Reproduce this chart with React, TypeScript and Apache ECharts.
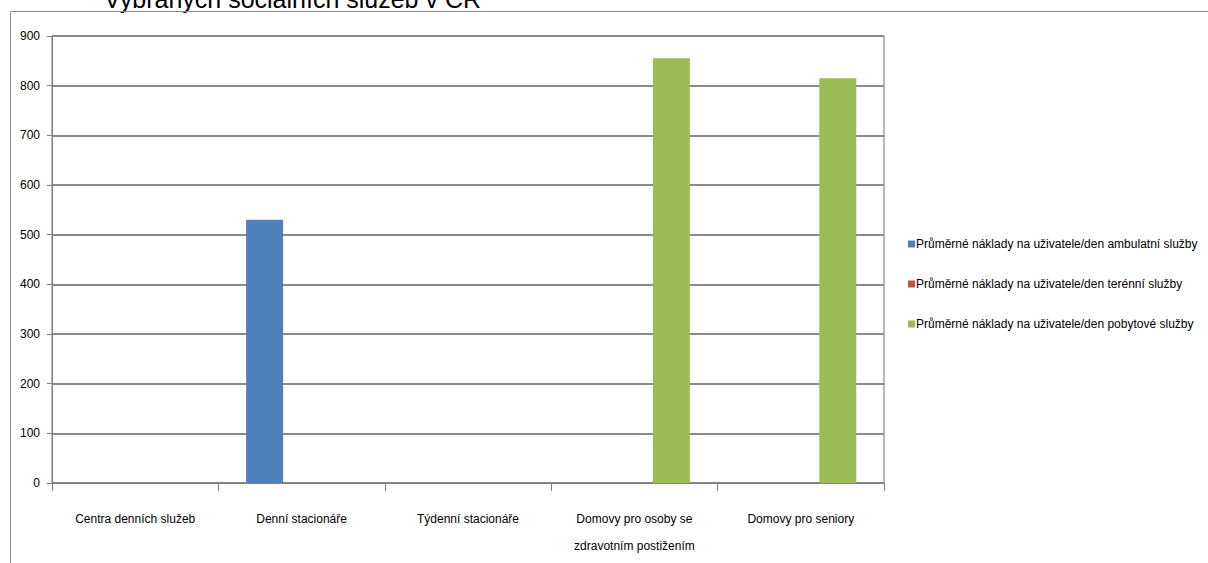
import React, { useEffect, useRef } from "react";
import * as echarts from "echarts";

const categories = [
  "Centra denních služeb",
  "Denní stacionáře",
  "Týdenní stacionáře",
  "Domovy pro osoby se zdravotním postižením",
  "Domovy pro seniory",
];
const seriesNames = [
  "Průměrné náklady na uživatele/den ambulatní služby",
  "Průměrné náklady na uživatele/den terénní služby",
  "Průměrné náklady na uživatele/den pobytové služby",
];
const ambulatni: (number | null)[] = [null, 530, null, null, null];
const terenni: (number | null)[] = [null, null, null, null, null];
const pobytove: (number | null)[] = [null, null, null, 855, 815];
const titleText = "Vybraných sociálních služeb v ČR";
const colors = ["#4f81bd", "#c0504d", "#9bbb59"];

const FONT = "'Liberation Sans', Arial, sans-serif";

function wrapWords(s: string, maxChars: number): string {
  const words = s.split(" ");
  const lines: string[] = [];
  let cur = "";
  for (const w of words) {
    const next = cur ? cur + " " + w : w;
    if (next.length > maxChars && cur) {
      lines.push(cur);
      cur = w;
    } else {
      cur = next;
    }
  }
  if (cur) lines.push(cur);
  return lines.join("\n");
}

export default function App() {
  const ref = useRef<HTMLDivElement>(null);
  useEffect(() => {
    if (!ref.current) return;
    const chart = echarts.init(ref.current, null, { renderer: "svg" });
    const data = [ambulatni, terenni, pobytove];
    chart.setOption({
      animation: false,
      backgroundColor: "#ffffff",
      textStyle: { fontFamily: FONT, color: "#000" },
      graphic: [
        {
          type: "text",
          left: 104,
          top: -14,
          style: { text: titleText, fontSize: 25, fontFamily: FONT, fill: "#000" },
        },
        {
          type: "polyline",
          shape: { points: [[10.5, 563], [10.5, 11.5], [1208, 11.5]] },
          style: { stroke: "#8c8c8c", lineWidth: 1, fill: "none" },
        },
      ],
      grid: {
        left: 52,
        right: 324,
        top: 36,
        bottom: 80,
        show: true,
        borderColor: "#6e6e6e",
        borderWidth: 1,
        backgroundColor: "transparent",
        outerBoundsMode: "none",
        containLabel: false,
      },
      legend: {
        orient: "vertical",
        left: 903,
        top: 233,
        itemWidth: 7,
        itemHeight: 7,
        itemGap: 28,
        icon: "rect",
        textStyle: { fontFamily: FONT, fontSize: 12, color: "#000", padding: [0, 0, 0, -4] },
        data: seriesNames,
      },
      xAxis: {
        type: "category",
        data: categories,
        axisLine: { lineStyle: { color: "#7f7f7f", width: 1 } },
        axisTick: { show: true, length: 8, lineStyle: { color: "#7f7f7f" } },
        axisLabel: {
          interval: 0,
          margin: 22,
          fontSize: 12,
          lineHeight: 27,
          color: "#000",
          fontFamily: FONT,
          verticalAlign: "top",
          formatter: (v: string) => wrapWords(v, 22),
        },
      },
      yAxis: {
        type: "value",
        min: 0,
        max: 900,
        interval: 100,
        axisLine: { show: true, lineStyle: { color: "#7f7f7f" } },
        axisTick: { show: true, length: 5, lineStyle: { color: "#7f7f7f" } },
        axisLabel: { fontSize: 12, color: "#000", margin: 12, fontFamily: FONT },
        splitLine: { lineStyle: { color: "#8a8a8a", width: 2 } },
      },
      series: seriesNames.map((name, i) => ({
        name,
        type: "bar",
        data: data[i],
        itemStyle: { color: colors[i] },
        barGap: "0%",
        barCategoryGap: "33.3%",
      })),
    });
    return () => chart.dispose();
  }, []);
  return (
    <div
      ref={ref}
      style={{ position: "absolute", left: 0, top: 0, width: 1208, height: 563 }}
    />
  );
}
